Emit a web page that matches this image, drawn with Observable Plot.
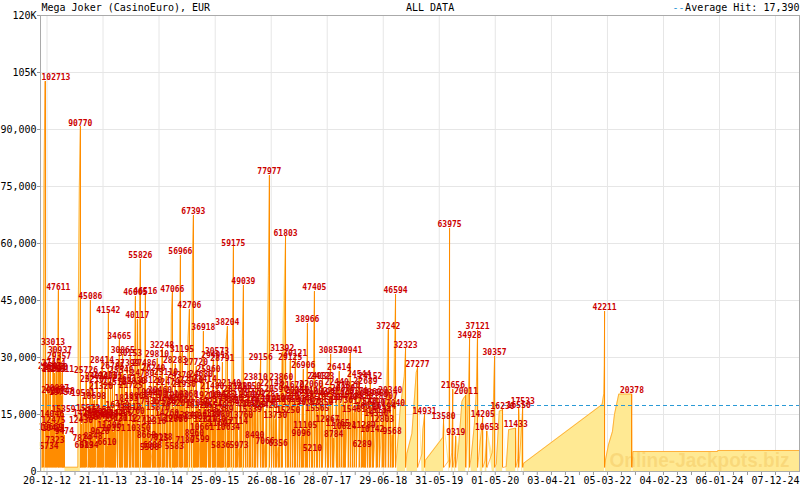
<!DOCTYPE html>
<html><head><meta charset="utf-8">
<script src="https://cdn.jsdelivr.net/npm/d3@7"></script>
<script src="https://cdn.jsdelivr.net/npm/@observablehq/plot@0.6"></script>
<style>body{margin:0;background:#fff}#chart svg{display:block}</style>
</head><body><div id="chart"></div>
<script>
const title = "Mega Joker (CasinoEuro), EUR";
const subtitle = "ALL DATA";
const legendLabel = "Average Hit: 17,390";
const watermark = "Online-Jackpots.biz";
const averageHit = 17390;
const resetLevel = 1000;
const xDomain = ["2012-11-11", "2025-04-30"];
const xTickDates = ["2012-12-20","2013-11-21","2014-10-23","2015-09-25","2016-08-26","2017-07-28","2018-06-29","2019-05-31","2020-05-01","2021-04-03","2022-03-05","2023-02-04","2024-01-06","2024-12-07"];
const minorStepDays = 84;
const yTicks = [0,15000,30000,45000,60000,75000,90000,105000,120000];

// jackpot hits [date, amount]
const hits2012 = [["2012-11-20",10421],["2012-11-26",26244],["2012-12-08",102713],["2012-12-14",20367],["2012-12-20",12475],["2012-12-26",27454]];
const hits2013 = [["2013-01-01",5734],["2013-01-07",26591],["2013-01-13",10669],["2013-01-19",14046],["2013-01-25",33013],["2013-01-31",25803],["2013-02-06",7323],["2013-02-12",26430],["2013-02-18",20887],["2013-02-26",47611],["2013-03-02",29357],["2013-03-08",30937],["2013-03-14",19757],["2013-03-20",26011],["2013-03-24",20148],["2013-03-29",15359],["2013-04-03",9474],["2013-07-08",90770],["2013-07-12",12430],["2013-07-18",7824],["2013-07-24",19581],["2013-07-30",6019],["2013-08-05",14213],["2013-08-11",25726],["2013-08-23",15572],["2013-08-29",5834],["2013-09-06",45086],["2013-09-10",13287],["2013-09-16",23210],["2013-09-22",8348],["2013-09-28",18698],["2013-10-04",14562],["2013-10-16",24011],["2013-10-22",13940],["2013-10-28",15158],["2013-11-03",9628],["2013-11-09",21320],["2013-11-15",28414],["2013-11-21",13466],["2013-12-03",24211],["2013-12-09",14103],["2013-12-15",6610],["2013-12-23",41542],["2013-12-30",11306]];
const hits2014 = [["2014-01-05",24001],["2014-01-11",14342],["2014-01-17",26785],["2014-01-23",10351],["2014-01-29",22510],["2014-02-04",13020],["2014-02-16",16450],["2014-02-27",34665],["2014-03-06",14455],["2014-03-11",25548],["2014-03-19",30865],["2014-03-30",23681],["2014-04-05",13112],["2014-04-11",18233],["2014-04-16",27399],["2014-04-28",15810],["2014-05-02",30153],["2014-05-07",21725],["2014-05-19",14760],["2014-05-25",22830],["2014-06-03",46065],["2014-06-09",18900],["2014-06-15",40117],["2014-06-22",10350],["2014-07-03",55826],["2014-07-15",24780],["2014-07-21",12712],["2014-07-27",27486],["2014-08-02",46516],["2014-08-08",8668],["2014-08-14",17436],["2014-08-20",19940],["2014-08-26",5508],["2014-09-01",23120],["2014-09-13",6008],["2014-09-19",26240],["2014-09-25",12316],["2014-10-01",19400],["2014-10-11",29810],["2014-10-17",15870],["2014-10-23",7725],["2014-10-29",20460],["2014-11-10",32248],["2014-11-16",8138],["2014-11-22",17520],["2014-12-04",25110],["2014-12-10",14260],["2014-12-14",22479],["2014-12-26",18420],["2014-12-31",12990]];
const hits2015 = [["2015-01-11",47066],["2015-01-17",16920],["2015-01-23",5583],["2015-01-27",28283],["2015-02-02",12850],["2015-02-08",19060],["2015-02-20",24370],["2015-02-28",56966],["2015-03-05",17660],["2015-03-10",31195],["2015-03-22",21930],["2015-03-28",7180],["2015-04-03",19368],["2015-04-09",13840],["2015-04-23",42706],["2015-05-05",22960],["2015-05-17",67393],["2015-05-23",8960],["2015-05-27",13525],["2015-06-02",27720],["2015-06-08",16320],["2015-06-14",17039],["2015-06-26",7599],["2015-07-02",24680],["2015-07-08",10661],["2015-07-16",36918],["2015-07-24",23414],["2015-07-29",12810],["2015-08-04",19210],["2015-08-16",25960],["2015-08-22",14380],["2015-08-28",17221],["2015-09-08",21480],["2015-09-13",29491],["2015-09-18",12730],["2015-09-24",16540],["2015-10-06",30573],["2015-10-12",13980],["2015-10-18",18790],["2015-10-24",11607],["2015-10-28",5836],["2015-11-02",15389],["2015-11-07",28791],["2015-11-12",19425],["2015-11-23",17720],["2015-12-07",38204],["2015-12-11",10634],["2015-12-17",22140],["2015-12-29",18360]];
const hits2016 = [["2016-01-12",59175],["2016-01-23",20760],["2016-01-28",12114],["2016-02-03",16980],["2016-02-15",5973],["2016-02-21",21390],["2016-02-27",13760],["2016-03-12",49039],["2016-03-24",18970],["2016-04-03",17724],["2016-04-15",21550],["2016-04-21",15339],["2016-05-03",19770],["2016-05-15",16810],["2016-05-19",8490],["2016-05-25",23810],["2016-06-06",18240],["2016-06-24",29156],["2016-07-04",17274],["2016-07-10",19228],["2016-07-20",7066],["2016-07-26",16420],["2016-08-15",77977],["2016-08-28",22148],["2016-09-09",17950],["2016-09-19",13730],["2016-09-25",20590],["2016-10-07",6356],["2016-10-13",18120],["2016-10-25",23860],["2016-10-31",31392],["2016-11-20",61803],["2016-11-30",18620],["2016-12-06",15250],["2016-12-18",29125],["2016-12-30",21670]];
const hits2017 = [["2017-01-11",17130],["2017-01-17",30121],["2017-01-29",20350],["2017-02-10",19652],["2017-02-22",9096],["2017-02-28",18040],["2017-03-06",26906],["2017-03-18",11105],["2017-03-24",20110],["2017-03-31",38966],["2017-04-12",17620],["2017-04-24",22060],["2017-04-30",5210],["2017-05-12",47405],["2017-05-24",19240],["2017-05-30",15565],["2017-06-11",24032],["2017-06-23",17350],["2017-06-29",24123],["2017-07-17",20220],["2017-07-30",12867],["2017-08-05",18560],["2017-08-18",30857],["2017-08-30",19910],["2017-09-05",8784],["2017-09-23",22440],["2017-09-28",11765],["2017-10-07",26414],["2017-10-19",17730],["2017-10-31",20880],["2017-11-07",10824],["2017-11-13",18470],["2017-12-01",21820],["2017-12-13",30941],["2017-12-25",19330]];
const hits2018 = [["2018-01-05",15481],["2018-01-18",20170],["2018-02-04",24544],["2018-02-17",18830],["2018-02-22",6289],["2018-03-04",11289],["2018-03-10",17540],["2018-03-15",22689],["2018-03-27",16070],["2018-04-07",19860],["2018-04-12",24152],["2018-04-24",10142],["2018-04-30",17290],["2018-05-18",14330],["2018-05-23",19580],["2018-06-05",15134],["2018-06-22",12803],["2018-07-03",16194],["2018-07-14",18907],["2018-07-29",37242],["2018-08-10",20340],["2018-08-21",9568],["2018-08-27",17040],["2018-09-11",46594],["2018-11-10",32323]];
const hits2019 = [["2019-01-21",27277],["2019-03-04",14931],["2019-06-26",13580],["2019-08-01",63975],["2019-08-21",21656],["2019-09-07",9319],["2019-11-07",20011],["2019-11-29",34928]];
const hits2020 = [["2020-01-16",37121],["2020-02-16",14205],["2020-03-12",10653],["2020-04-27",30357],["2020-06-14",16230],["2020-09-01",11433],["2020-09-19",16550],["2020-10-13",17533]];
const hits2022 = [["2022-02-16",42211],["2022-07-30",20378]];

// other observed jackpot levels between hits [date, level]
const levelObs = [["2012-11-14",12000],["2012-12-02",77000],["2013-04-07",1130],["2013-06-23",1130],["2013-06-26",45000],["2013-07-02",75200],["2014-06-28",43400],["2015-01-05",41300],["2015-04-15",35000],["2015-05-11",54800],["2015-11-29",33700],["2016-01-06",35000],["2016-03-06",35000],["2016-08-09",51600],["2018-09-21",6000],["2018-10-09",16500],["2018-11-02",25000],["2018-11-18",4740],["2018-12-18",10000],["2019-01-13",26100],["2019-02-16",4650],["2019-02-22",11200],["2019-03-08",2900],["2019-06-22",9000],["2019-07-29",3000],["2019-08-14",5000],["2019-09-01",4000],["2019-09-24",6400],["2019-10-14",18400],["2019-10-24",19300],["2019-11-23",22200],["2019-12-09",4000],["2019-12-27",12000],["2020-01-08",20900],["2020-02-01",8000],["2020-03-02",3000],["2020-04-13",5000],["2020-04-21",20900],["2020-05-07",2000],["2020-05-25",15900],["2020-07-06",1300],["2020-07-20",11000],["2020-09-14",3500],["2020-10-07",12000],["2020-10-19",2200],["2022-02-01",17630],["2022-02-11",20500],["2022-02-14",27900],["2022-02-21",3000],["2022-03-11",7000],["2022-04-04",10500],["2022-04-16",15000],["2022-05-12",20378],["2022-08-05",5260],["2023-12-25",5260],["2023-12-27",5530],["2025-04-30",5530]];

// build series
const allHits = [...hits2012, ...hits2013, ...hits2014, ...hits2015, ...hits2016, ...hits2017, ...hits2018, ...hits2019, ...hits2020, ...hits2022];
const events = [];
allHits.forEach(([d, v]) => events.push({date: new Date(d), value: v, hit: 1}));
levelObs.forEach(([d, v]) => events.push({date: new Date(d), value: v, hit: 0}));
events.sort((a, b) => (a.date - b.date) || (a.hit - b.hit));
const series = [];
for (const e of events) {
  series.push({date: e.date, value: e.value});
  if (e.hit) series.push({date: e.date, value: resetLevel});
}
const hits = events.filter(e => e.hit);
const clampBefore = new Date("2012-12-29");
const hitsLeft = hits.filter(h => h.date < clampBefore);
const hitsMid = hits.filter(h => h.date >= clampBefore);

const fmtY = d => d >= 105000 ? (d / 1000) + "K" : d3.format(",")(d);
const xTicks = xTickDates.map(d => new Date(d));
const minorTicks = [];
xTicks.forEach(t => { for (let k = 1; k < 4; k++) minorTicks.push(d3.utcDay.offset(t, k * minorStepDays)); });
const labelStyle = {fill: "#CC0000", fontSize: 8, fontWeight: "bold", lineAnchor: "bottom", dy: -1, text: d => String(d.value)};
const orange = "#FF8C00";

const chart = Plot.plot({
  width: 800, height: 490,
  marginLeft: 40, marginRight: 1, marginTop: 15, marginBottom: 19,
  style: {fontFamily: "DejaVu Sans Mono", fontSize: "10px", background: "#fff", color: "#000"},
  x: {type: "utc", domain: xDomain.map(d => new Date(d))},
  y: {domain: [0, 120000]},
  marks: [
    Plot.gridY({ticks: yTicks, stroke: "#e6e6e6", strokeOpacity: 1}),
    Plot.gridX({ticks: xTicks, stroke: "#e6e6e6", strokeOpacity: 1}),
    Plot.areaY(series, {x: "date", y: "value", fill: "#FFE993"}),
    Plot.text([watermark], {frameAnchor: "bottom-right", textAnchor: "end", lineAnchor: "bottom", dx: -10, dy: -5, fontSize: 21, fontWeight: "bold", fontFamily: "Liberation Sans", fill: "#E8A830", fillOpacity: 0.25}),
    Plot.lineY(series, {x: "date", y: "value", stroke: orange, strokeWidth: 0.6}),
    Plot.ruleX(hits, {x: "date", y1: resetLevel, y2: "value", stroke: orange, strokeWidth: 1, shapeRendering: "crispEdges"}),
    Plot.ruleY([averageHit], {stroke: "#2A9AD6", strokeDasharray: "4,3", shapeRendering: "crispEdges"}),
    Plot.text(hitsMid, {x: "date", y: "value", ...labelStyle}),
    Plot.text(hitsLeft, {y: "value", frameAnchor: "left", textAnchor: "start", dx: 1, ...labelStyle}),
    Plot.axisY({ticks: yTicks, tickFormat: fmtY, tickSize: 3, tickPadding: 1, stroke: "#999", fontSize: 10, label: null}),
    Plot.axisX({ticks: minorTicks, tickFormat: () => "", tickSize: 4, stroke: "#999", label: null}),
    Plot.axisX({ticks: xTicks, tickFormat: d3.utcFormat("%d-%m-%y"), tickSize: 4, tickPadding: 1, stroke: "#999", fontSize: 10, label: null}),
    Plot.frame({stroke: "#aaa"}),
    Plot.text([title], {frameAnchor: "top-left", textAnchor: "start", lineAnchor: "middle", dx: 1, dy: -8, fill: "#000"}),
    Plot.text([subtitle], {frameAnchor: "top", textAnchor: "start", lineAnchor: "middle", dx: -14, dy: -8, fill: "#000"}),
    Plot.text([legendLabel], {frameAnchor: "top-right", textAnchor: "end", lineAnchor: "middle", dy: -8, fill: "#000"}),
    Plot.text(["--"], {frameAnchor: "top-right", textAnchor: "end", lineAnchor: "middle", dx: -115, dy: -8, fill: "#2A9AD6"})
  ]
});
chart.querySelectorAll("text").forEach(t => {
  if (t.textContent === watermark) { t.setAttribute("textLength", "180"); t.setAttribute("lengthAdjust", "spacingAndGlyphs"); }
});
document.getElementById("chart").appendChild(chart);
</script>
</body></html>
